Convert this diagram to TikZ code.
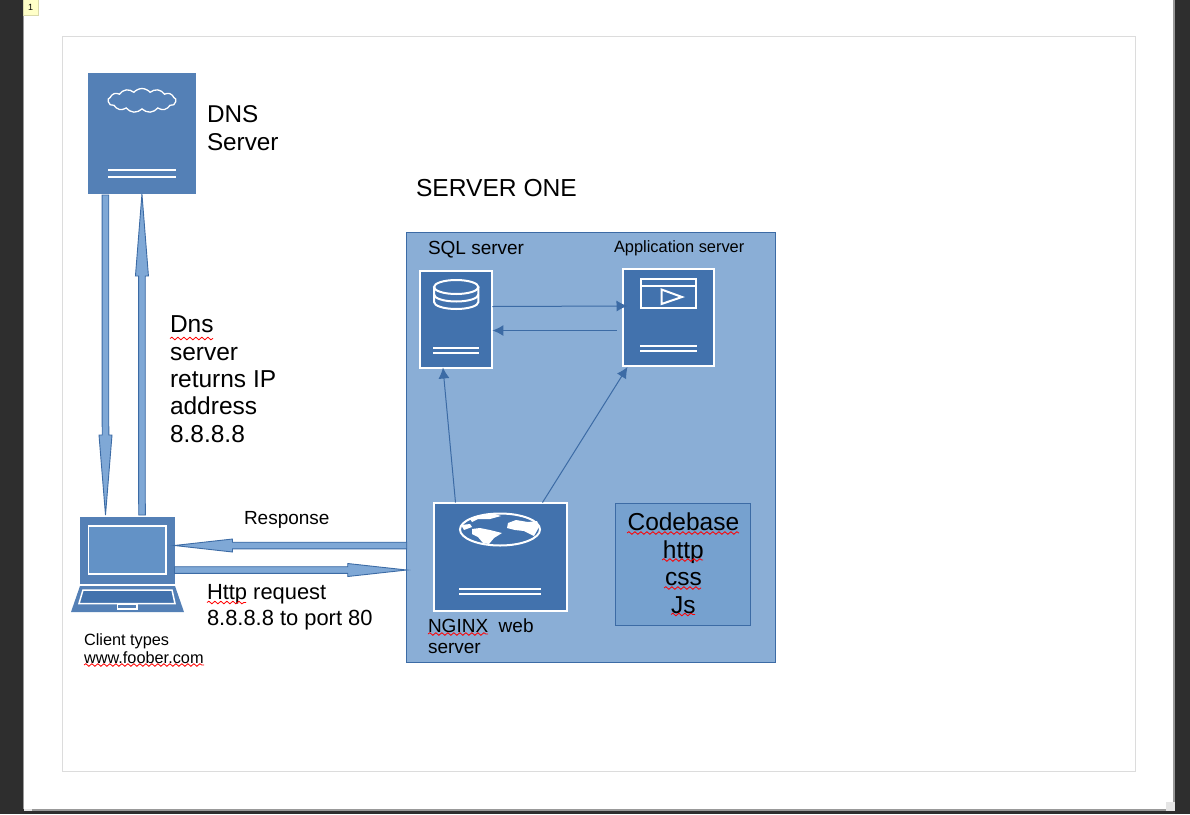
\documentclass[tikz,border=0pt]{standalone}
\usepackage{fontspec}
\setmainfont{Liberation Sans}
\usetikzlibrary{calc,arrows.meta,shapes.symbols,decorations.pathmorphing}
\definecolor{deskbg}{HTML}{2E2E2E}
\definecolor{framegray}{HTML}{DCDCDC}
\definecolor{edgeblue}{HTML}{3C6BA5}
\definecolor{panelblue}{HTML}{8AAED6}
\definecolor{darkblue}{HTML}{4272AD}
\definecolor{midblue}{HTML}{5480B6}
\definecolor{arrowblue}{HTML}{7FA8D6}
\definecolor{codeblue}{HTML}{76A1CF}
\definecolor{screenblue}{HTML}{6392C6}
\definecolor{tabyellow}{HTML}{FFFFC8}
\tikzset{
  tbox/.style={inner sep=0pt,outer sep=0pt,align=left,anchor=north west,text=black},
  srv/.style={draw=white,line width=2pt,fill=darkblue,inner sep=0pt,outer sep=0pt},
  plainsrv/.style={fill=midblue,inner sep=0pt,outer sep=0pt},
  wline/.style={draw=white,line width=1.7pt},
  icon/.style={draw=white,line width=2pt},
  thin arrow/.style={draw=edgeblue,line width=1pt,-{Latex[length=11pt,width=11pt]}},
  blockarr/.style={draw=edgeblue,line width=.9pt,fill=arrowblue,line join=miter},
  squig/.style={draw=red,line width=.8pt,decorate,decoration={snake,amplitude=1.3pt,segment length=6pt}},
}
\newcommand{\hblock}[3]{\draw[blockarr] ($(#1)+(0,-3.3)$) -- ($(#2)+(#3,-3.3)$) -- ($(#2)+(#3,-6.5)$) -- (#2) -- ($(#2)+(#3,6.5)$) -- ($(#2)+(#3,3.3)$) -- ($(#1)+(0,3.3)$) -- cycle;}
\newcommand{\vblock}[3]{\draw[blockarr] ($(#1)+(-3.3,0)$) -- ($(#2)+(-3.3,#3)$) -- ($(#2)+(-6.5,#3)$) -- (#2) -- ($(#2)+(6.5,#3)$) -- ($(#2)+(3.3,#3)$) -- ($(#1)+(3.3,0)$) -- cycle;}
\newcommand{\fs}[2]{\fontsize{#1}{#2}\selectfont}
\begin{document}
\begin{tikzpicture}[x=1pt,y=-1pt]
\useasboundingbox (0,0) rectangle (1190,814);
% desk and page
\fill[deskbg] (0,0) rectangle (1190,814);
\fill[white] (24,0) rectangle (1173,809);
\fill[gray!80] (23,0) rectangle (24,809);
\fill[gray!80] (1173,0) rectangle (1175,802);
\fill[gray!80] (32,809) rectangle (1166,811);
\fill[gray!20] (1166,802) rectangle (1175,811);
\fill[gray!20] (24,809) rectangle (32,811);
\draw[draw=framegray,line width=1pt] (62.5,36) rectangle (1135,771);
\node[draw=black!15!tabyellow,fill=tabyellow,minimum width=15pt,minimum height=16pt,inner sep=0pt,font=\fs{9}{10},anchor=north west] (tab) at (23,-1) {1};
% server panel
\node[draw=edgeblue,line width=1pt,fill=panelblue,minimum width=368.6pt,minimum height=430pt,inner sep=0pt,outer sep=0pt] (panel) at (591,447) {};
% DNS
\node[plainsrv,minimum width=108.5pt,minimum height=121pt] (dns) at (142.2,133.5) {};
\node[cloud,draw=white,line width=1.3pt,fill=midblue,cloud puffs=13,cloud puff arc=100,aspect=3,minimum width=68pt,minimum height=24pt,inner sep=0pt] (cloudicon) at (142,100.5) {};
\draw[wline] (108,170) -- (176,170) (108,177) -- (176,177);
% SQL
\node[srv,minimum width=72.5pt,minimum height=97pt] (sql) at (456.2,319) {};
\draw[icon] (434,287) -- (434,302) arc[start angle=180,end angle=0,x radius=22.2,y radius=7] -- (478.4,287);
\draw[icon] (456.2,287) ellipse[x radius=22.2,y radius=7];
\draw[icon] (434,294.5) arc[start angle=180,end angle=0,x radius=22.2,y radius=7];
\draw[wline] (433,348) -- (479,348) (433,353) -- (479,353);
% App
\node[srv,minimum width=91pt,minimum height=97pt] (app) at (668,317.5) {};
\draw[icon] (640.5,278.5) rectangle (696,308);
\draw[icon] (640.5,285.5) -- (696,285.5);
\draw[icon] (661.5,289.5) -- (661.5,304) -- (682,297) -- cycle;
\draw[wline] (640,346) -- (696.5,346) (640,351) -- (696.5,351);
% NGINX
\node[srv,minimum width=133pt,minimum height=108pt] (web) at (500,556.5) {};
\draw[icon,line width=2pt] (500,529.5) ellipse[x radius=40,y radius=16];
\fill[white] (472,529) -- (480,528) -- (490,530) -- (502,533) -- (494,538) -- (489,544) -- (483,543) -- (478,537) -- (472,534) -- cycle;
\fill[white] (508,523) -- (516,520) -- (528,522) -- (537,521) -- (539,527) -- (534,536) -- (524,531) -- (515,530) -- (507,528) -- cycle;
\fill[white] (470,519) -- (478,516) -- (495,514) -- (501,516) -- (490,519) -- (478,519) -- (472,522) -- cycle;
\fill[white] (461,525) -- (470,524) -- (472,527) -- (464,530) -- cycle;
\draw[wline] (459,589) -- (541,589) (459,594) -- (541,594);
% Codebase
\node[draw=edgeblue,line width=1pt,fill=codeblue,minimum width=135pt,minimum height=122pt,inner sep=0pt,outer sep=0pt,align=center,font=\fs{24.5}{27.6}] (code) at (683.4,564.2) {};
\node[inner sep=0pt,outer sep=0pt,align=center,font=\fs{24.5}{27.6}] (codetext) at (683.4,563.2) {Codebase\\http\\css\\Js};
% Laptop
\node[plainsrv,minimum width=95pt,minimum height=67pt] (laptop) at (127,550.5) {};
\draw[draw=white,line width=1.3pt,fill=screenblue] (88.5,526) rectangle (166,574);
\fill[midblue] (80,586) -- (175,586) -- (184,612) -- (71,612) -- cycle;
\draw[draw=white,line width=1.5pt,fill=darkblue] (83,590) -- (172,590) -- (175,603.5) -- (79,603.5) -- cycle;
\draw[draw=white,line width=1.3pt,fill=midblue] (117.5,604) rectangle (137,609);
% arrow end points
\coordinate (dnsA) at ($(dns.south west)+(17.5,1)$);
\coordinate (lapA) at ($(laptop.north west)+(26,-2)$);
\coordinate (lapB) at ($(laptop.north west)+(62.5,-2)$);
\coordinate (dnsB) at ($(dns.south west)+(54,0)$);
\coordinate (lapC) at ($(laptop.north east)+(0,28.5)$);
\coordinate (panC) at (panel.west |- lapC);
\coordinate (lapD) at ($(laptop.north east)+(0,53)$);
\coordinate (panD) at (panel.west |- lapD);
\vblock{dnsA}{lapA}{-80}
\vblock{lapB}{dnsB}{82}
\hblock{panC}{lapC}{58}
\hblock{lapD}{panD}{-59}
% thin connectors
\coordinate (sqlE1) at ($(sql.north east)+(0,36)$);
\coordinate (appW1) at ($(app.north west)+(5,37)$);
\coordinate (appW2) at ($(app.north west)+(-6,61.5)$);
\coordinate (sqlE2) at (sql.east |- appW2);
\draw[thin arrow] (sqlE1) -- (appW1);
\draw[thin arrow] (appW2) -- (sqlE2);
\draw[thin arrow] ($(web.north west)+(22,0)$) -- ($(sql.south west)+(23,0)$);
\draw[thin arrow] ($(web.north west)+(109,0)$) -- ($(app.south west)+(5,1)$);
% labels
\node[tbox,font=\fs{24.3}{27.5}] (dnslabel) at (207,106) {DNS\\Server};
\node[tbox,font=\fs{24.6}{27.5}] (serverone) at (416,179) {SERVER ONE};
\node[tbox,font=\fs{19}{21}] (sqllabel) at (428,241.5) {SQL server};
\node[tbox,font=\fs{16.4}{18}] (applabel) at (614,241) {Application server};
\node[tbox,font=\fs{24.5}{27.3}] (dnstext) at (170,316) {Dns\\server\\returns IP\\address\\8.8.8.8};
\node[tbox,font=\fs{19}{21}] (resp) at (244,511) {Response};
\node[tbox,font=\fs{21.9}{26}] (httplabel) at (207,584.5) {Http request\\8.8.8.8 to port 80};
\node[tbox,font=\fs{16.3}{17.6}] (clientlabel) at (84,634) {Client types\\www.foober.com};
\node[tbox,font=\fs{19}{21}] (webname) at (428,619) {NGINX~ web\\server};
% spell-check marks
\draw[squig] (170,338.5) -- (213,338.5);
\draw[squig] (207,602.5) -- (246,602.5);
\draw[squig] (84,665) -- (204,665);
\draw[squig] (428,634) -- (488,634);
\draw[squig] (627,533) -- (739,533);
\draw[squig] (662,560) -- (703,560);
\draw[squig] (664,588) -- (701,588);
\draw[squig] (671,614.5) -- (695,614.5);
\end{tikzpicture}
\end{document}
